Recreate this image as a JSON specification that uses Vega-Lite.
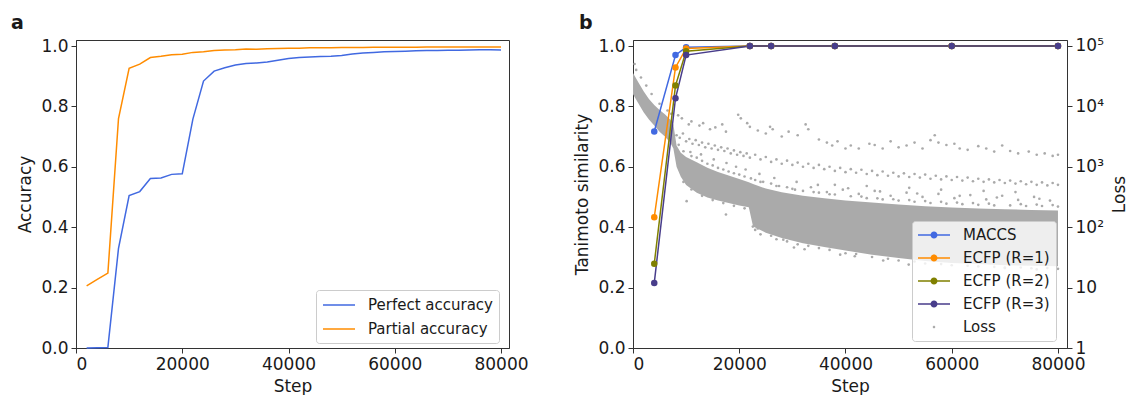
{
  "$schema": "https://vega.github.io/schema/vega-lite/v6.json",
  "padding": {"left": 10, "top": 13, "right": 0, "bottom": 0},
  "spacing": 44,
  "config": {
    "font": "DejaVu Sans",
    "view": {"stroke": "#333333", "strokeWidth": 1},
    "axis": {"labelFontSize": 17, "titleFontSize": 17, "titleFontWeight": "normal", "labelColor": "#1a1a1a", "titleColor": "#1a1a1a", "domainColor": "#333333", "tickColor": "#333333", "tickSize": 5, "grid": false, "labelPadding": 3, "titlePadding": 6},
    "title": {"fontSize": 19, "fontWeight": "bold", "color": "#1a1a1a"},
    "legend": {"title": null, "orient": "none", "labelFontSize": 15, "labelColor": "#1a1a1a", "symbolSize": 256, "symbolOffset": 8, "rowPadding": 7, "padding": 6, "fillColor": "rgba(255,255,255,0.8)", "strokeColor": "#cccccc", "cornerRadius": 3}
  },
  "resolve": {"scale": {"color": "independent"}, "legend": {"color": "independent"}},
  "hconcat": [
    {
      "width": 433, "height": 308,
      "title": {"text": "a", "anchor": "start", "frame": "bounds", "offset": 4, "dx": -6},
      "data": {"values": [
        {"step": 2000, "metric": "Perfect accuracy", "acc": 0.0},
        {"step": 4000, "metric": "Perfect accuracy", "acc": 0.001},
        {"step": 6000, "metric": "Perfect accuracy", "acc": 0.002},
        {"step": 8000, "metric": "Perfect accuracy", "acc": 0.33},
        {"step": 10000, "metric": "Perfect accuracy", "acc": 0.505},
        {"step": 12000, "metric": "Perfect accuracy", "acc": 0.518},
        {"step": 14000, "metric": "Perfect accuracy", "acc": 0.561},
        {"step": 16000, "metric": "Perfect accuracy", "acc": 0.563},
        {"step": 18000, "metric": "Perfect accuracy", "acc": 0.575},
        {"step": 20000, "metric": "Perfect accuracy", "acc": 0.577},
        {"step": 22000, "metric": "Perfect accuracy", "acc": 0.758},
        {"step": 24000, "metric": "Perfect accuracy", "acc": 0.884},
        {"step": 26000, "metric": "Perfect accuracy", "acc": 0.917},
        {"step": 28000, "metric": "Perfect accuracy", "acc": 0.928},
        {"step": 30000, "metric": "Perfect accuracy", "acc": 0.937},
        {"step": 32000, "metric": "Perfect accuracy", "acc": 0.942},
        {"step": 34000, "metric": "Perfect accuracy", "acc": 0.944},
        {"step": 36000, "metric": "Perfect accuracy", "acc": 0.947},
        {"step": 38000, "metric": "Perfect accuracy", "acc": 0.953},
        {"step": 40000, "metric": "Perfect accuracy", "acc": 0.959},
        {"step": 42000, "metric": "Perfect accuracy", "acc": 0.962},
        {"step": 44000, "metric": "Perfect accuracy", "acc": 0.964},
        {"step": 46000, "metric": "Perfect accuracy", "acc": 0.965},
        {"step": 48000, "metric": "Perfect accuracy", "acc": 0.966},
        {"step": 50000, "metric": "Perfect accuracy", "acc": 0.969},
        {"step": 52000, "metric": "Perfect accuracy", "acc": 0.974},
        {"step": 54000, "metric": "Perfect accuracy", "acc": 0.977},
        {"step": 56000, "metric": "Perfect accuracy", "acc": 0.979},
        {"step": 58000, "metric": "Perfect accuracy", "acc": 0.981},
        {"step": 60000, "metric": "Perfect accuracy", "acc": 0.982},
        {"step": 62000, "metric": "Perfect accuracy", "acc": 0.983},
        {"step": 64000, "metric": "Perfect accuracy", "acc": 0.984},
        {"step": 66000, "metric": "Perfect accuracy", "acc": 0.985},
        {"step": 68000, "metric": "Perfect accuracy", "acc": 0.985},
        {"step": 70000, "metric": "Perfect accuracy", "acc": 0.986},
        {"step": 72000, "metric": "Perfect accuracy", "acc": 0.986},
        {"step": 74000, "metric": "Perfect accuracy", "acc": 0.987},
        {"step": 76000, "metric": "Perfect accuracy", "acc": 0.988},
        {"step": 78000, "metric": "Perfect accuracy", "acc": 0.988},
        {"step": 80000, "metric": "Perfect accuracy", "acc": 0.987},
        {"step": 2000, "metric": "Partial accuracy", "acc": 0.206},
        {"step": 4000, "metric": "Partial accuracy", "acc": 0.227},
        {"step": 6000, "metric": "Partial accuracy", "acc": 0.248},
        {"step": 8000, "metric": "Partial accuracy", "acc": 0.76},
        {"step": 10000, "metric": "Partial accuracy", "acc": 0.926},
        {"step": 12000, "metric": "Partial accuracy", "acc": 0.94},
        {"step": 14000, "metric": "Partial accuracy", "acc": 0.962},
        {"step": 16000, "metric": "Partial accuracy", "acc": 0.966},
        {"step": 18000, "metric": "Partial accuracy", "acc": 0.971},
        {"step": 20000, "metric": "Partial accuracy", "acc": 0.973},
        {"step": 22000, "metric": "Partial accuracy", "acc": 0.979},
        {"step": 24000, "metric": "Partial accuracy", "acc": 0.981},
        {"step": 26000, "metric": "Partial accuracy", "acc": 0.985},
        {"step": 28000, "metric": "Partial accuracy", "acc": 0.987},
        {"step": 30000, "metric": "Partial accuracy", "acc": 0.988},
        {"step": 32000, "metric": "Partial accuracy", "acc": 0.99},
        {"step": 34000, "metric": "Partial accuracy", "acc": 0.989},
        {"step": 36000, "metric": "Partial accuracy", "acc": 0.991},
        {"step": 38000, "metric": "Partial accuracy", "acc": 0.992},
        {"step": 40000, "metric": "Partial accuracy", "acc": 0.993},
        {"step": 42000, "metric": "Partial accuracy", "acc": 0.993},
        {"step": 44000, "metric": "Partial accuracy", "acc": 0.994},
        {"step": 46000, "metric": "Partial accuracy", "acc": 0.994},
        {"step": 48000, "metric": "Partial accuracy", "acc": 0.994},
        {"step": 50000, "metric": "Partial accuracy", "acc": 0.995},
        {"step": 52000, "metric": "Partial accuracy", "acc": 0.995},
        {"step": 54000, "metric": "Partial accuracy", "acc": 0.995},
        {"step": 56000, "metric": "Partial accuracy", "acc": 0.996},
        {"step": 58000, "metric": "Partial accuracy", "acc": 0.996},
        {"step": 60000, "metric": "Partial accuracy", "acc": 0.996},
        {"step": 62000, "metric": "Partial accuracy", "acc": 0.996},
        {"step": 64000, "metric": "Partial accuracy", "acc": 0.996},
        {"step": 66000, "metric": "Partial accuracy", "acc": 0.997},
        {"step": 68000, "metric": "Partial accuracy", "acc": 0.997},
        {"step": 70000, "metric": "Partial accuracy", "acc": 0.997},
        {"step": 72000, "metric": "Partial accuracy", "acc": 0.997},
        {"step": 74000, "metric": "Partial accuracy", "acc": 0.997},
        {"step": 76000, "metric": "Partial accuracy", "acc": 0.997},
        {"step": 78000, "metric": "Partial accuracy", "acc": 0.997},
        {"step": 80000, "metric": "Partial accuracy", "acc": 0.997}
      ]},
      "mark": {"type": "line", "strokeWidth": 1.5},
      "encoding": {
        "x": {"field": "step", "type": "quantitative", "scale": {"domain": [0, 81500], "nice": false}, "axis": {"values": [0, 20000, 40000, 60000, 80000], "format": "d", "title": "Step"}},
        "y": {"field": "acc", "type": "quantitative", "scale": {"domain": [0, 1.02], "nice": false}, "axis": {"values": [0, 0.2, 0.4, 0.6, 0.8, 1.0], "format": ".1f", "title": "Accuracy"}},
        "color": {"field": "metric", "type": "nominal", "scale": {"domain": ["Perfect accuracy", "Partial accuracy"], "range": ["#4169e1", "#ff8c00"]},
          "legend": {"legendX": 240, "legendY": 250, "symbolType": "M-2,0H2", "symbolStrokeWidth": 1.5, "labelOffset": 20}}
      }
    },
    {
      "width": 434, "height": 308,
      "title": {"text": "b", "anchor": "start", "frame": "bounds", "offset": 4, "dx": 5},
      "layer": [
        {
          "layer": [
            {
              "data": {"values": [
                {"step": 0, "top": 35500, "bottom": 15800},
                {"step": 1000, "top": 25100, "bottom": 11200},
                {"step": 2000, "top": 17800, "bottom": 7940},
                {"step": 3000, "top": 13200, "bottom": 6030},
                {"step": 4000, "top": 10500, "bottom": 4790},
                {"step": 5000, "top": 8710, "bottom": 3800},
                {"step": 6000, "top": 7410, "bottom": 3160},
                {"step": 7000, "top": 6030, "bottom": 2510},
                {"step": 7600, "top": 5010, "bottom": 2000},
                {"step": 8200, "top": 2240, "bottom": 1000},
                {"step": 9000, "top": 1700, "bottom": 680},
                {"step": 10000, "top": 1450, "bottom": 500},
                {"step": 12000, "top": 1180, "bottom": 370},
                {"step": 14000, "top": 960, "bottom": 308},
                {"step": 16000, "top": 820, "bottom": 275},
                {"step": 18000, "top": 715, "bottom": 250},
                {"step": 20000, "top": 625, "bottom": 228},
                {"step": 21800, "top": 555, "bottom": 214},
                {"step": 22600, "top": 520, "bottom": 102},
                {"step": 25000, "top": 435, "bottom": 81},
                {"step": 28000, "top": 378, "bottom": 66},
                {"step": 32000, "top": 330, "bottom": 54},
                {"step": 36000, "top": 300, "bottom": 47},
                {"step": 40000, "top": 275, "bottom": 41},
                {"step": 45000, "top": 255, "bottom": 35},
                {"step": 50000, "top": 238, "bottom": 31},
                {"step": 55000, "top": 222, "bottom": 27.5},
                {"step": 60000, "top": 212, "bottom": 25.5},
                {"step": 65000, "top": 203, "bottom": 24.5},
                {"step": 70000, "top": 198, "bottom": 23.5},
                {"step": 75000, "top": 193, "bottom": 23},
                {"step": 80000, "top": 189, "bottom": 22.5}
              ]},
              "mark": {"type": "area", "color": "#aaaaaa", "opacity": 1},
              "encoding": {
                "x": {"field": "step", "type": "quantitative", "scale": {"domain": [0, 81700], "nice": false}, "axis": {"values": [0, 20000, 40000, 60000, 80000], "format": "d", "title": "Step"}},
                "y": {"field": "top", "type": "quantitative", "scale": {"type": "log", "domain": [1, 125000], "nice": false}, "axis": {"orient": "right", "title": "Loss", "titleAngle": 270, "titleBaseline": "top", "titlePadding": 8, "values": [1, 10, 100, 1000, 10000, 100000], "labelExpr": "datum.value >= 100000 ? '10⁵' : datum.value >= 10000 ? '10⁴' : datum.value >= 1000 ? '10³' : datum.value >= 100 ? '10²' : datum.value >= 10 ? '10' : '1'"}},
                "y2": {"field": "bottom"}
              }
            },
            {
              "data": {"values": [
                {"step": 300, "loss": 50000}, {"step": 600, "loss": 40000}, {"step": 1500, "loss": 30000}, {"step": 2500, "loss": 22000}, {"step": 3500, "loss": 16000}, {"step": 5000, "loss": 11000}, {"step": 6500, "loss": 8500}, {"step": 7200, "loss": 7500},
                {"step": 8500, "loss": 7080}, {"step": 9200, "loss": 6310}, {"step": 10500, "loss": 5010}, {"step": 11000, "loss": 5620}, {"step": 12500, "loss": 4790}, {"step": 13200, "loss": 5250}, {"step": 14500, "loss": 4170}, {"step": 15500, "loss": 4470}, {"step": 16800, "loss": 5010}, {"step": 17500, "loss": 3800}, {"step": 19800, "loss": 7240}, {"step": 20300, "loss": 6310}, {"step": 21500, "loss": 5250}, {"step": 22000, "loss": 4570}, {"step": 23500, "loss": 3980}, {"step": 25000, "loss": 3550}, {"step": 25800, "loss": 4570}, {"step": 26300, "loss": 4170}, {"step": 28000, "loss": 3160}, {"step": 29300, "loss": 3800}, {"step": 31000, "loss": 3310}, {"step": 32500, "loss": 5010}, {"step": 33000, "loss": 4170}, {"step": 35000, "loss": 2820}, {"step": 36500, "loss": 2510}, {"step": 37500, "loss": 2240}, {"step": 38500, "loss": 2630}, {"step": 40000, "loss": 2000}, {"step": 41000, "loss": 2240}, {"step": 42500, "loss": 2000}, {"step": 44500, "loss": 2400}, {"step": 45500, "loss": 2290}, {"step": 47000, "loss": 2000}, {"step": 48500, "loss": 2630}, {"step": 50000, "loss": 2090}, {"step": 51500, "loss": 2240}, {"step": 53000, "loss": 2510}, {"step": 54500, "loss": 2000}, {"step": 56000, "loss": 2750}, {"step": 56800, "loss": 3310}, {"step": 57500, "loss": 2510}, {"step": 59000, "loss": 2290}, {"step": 60500, "loss": 2400}, {"step": 61500, "loss": 2000}, {"step": 63000, "loss": 1900}, {"step": 65000, "loss": 2190}, {"step": 66500, "loss": 2000}, {"step": 68000, "loss": 1780}, {"step": 69500, "loss": 2240}, {"step": 71000, "loss": 1820}, {"step": 72500, "loss": 1660}, {"step": 74500, "loss": 1780}, {"step": 76000, "loss": 1580}, {"step": 77500, "loss": 1660}, {"step": 79000, "loss": 1510}, {"step": 80000, "loss": 1580},
                {"step": 8200, "loss": 3310}, {"step": 8800, "loss": 3020}, {"step": 9400, "loss": 3550}, {"step": 10000, "loss": 2630}, {"step": 10600, "loss": 2880}, {"step": 11200, "loss": 2400}, {"step": 11800, "loss": 2750}, {"step": 12400, "loss": 2290}, {"step": 13000, "loss": 2510}, {"step": 13600, "loss": 2090}, {"step": 14200, "loss": 2400}, {"step": 14800, "loss": 2000}, {"step": 15400, "loss": 2240}, {"step": 16000, "loss": 1900}, {"step": 16600, "loss": 2090}, {"step": 17200, "loss": 1820}, {"step": 17800, "loss": 2000}, {"step": 18400, "loss": 1660}, {"step": 19000, "loss": 1860}, {"step": 19600, "loss": 1580}, {"step": 20200, "loss": 1740}, {"step": 20800, "loss": 1510}, {"step": 21400, "loss": 1660}, {"step": 22000, "loss": 1410}, {"step": 23000, "loss": 1580}, {"step": 24000, "loss": 1320}, {"step": 25000, "loss": 1450}, {"step": 26000, "loss": 1200}, {"step": 27000, "loss": 1320}, {"step": 28000, "loss": 1120}, {"step": 29000, "loss": 1260}, {"step": 30000, "loss": 1070}, {"step": 31000, "loss": 1170}, {"step": 32000, "loss": 1000}, {"step": 33000, "loss": 1120}, {"step": 34000, "loss": 955}, {"step": 35000, "loss": 1070}, {"step": 36000, "loss": 912}, {"step": 37000, "loss": 1000}, {"step": 38000, "loss": 851}, {"step": 39000, "loss": 955}, {"step": 40000, "loss": 813}, {"step": 41000, "loss": 912}, {"step": 42000, "loss": 794}, {"step": 43000, "loss": 891}, {"step": 44000, "loss": 759}, {"step": 45000, "loss": 851}, {"step": 46000, "loss": 724}, {"step": 47000, "loss": 832}, {"step": 48000, "loss": 708}, {"step": 49000, "loss": 794}, {"step": 50000, "loss": 692}, {"step": 51000, "loss": 776}, {"step": 52000, "loss": 676}, {"step": 53000, "loss": 759}, {"step": 54000, "loss": 661}, {"step": 55000, "loss": 741}, {"step": 56000, "loss": 631}, {"step": 57000, "loss": 708}, {"step": 58000, "loss": 617}, {"step": 59000, "loss": 692}, {"step": 60000, "loss": 603}, {"step": 61000, "loss": 676}, {"step": 62000, "loss": 589}, {"step": 63000, "loss": 661}, {"step": 64000, "loss": 575}, {"step": 65000, "loss": 631}, {"step": 66000, "loss": 562}, {"step": 67000, "loss": 617}, {"step": 68000, "loss": 550}, {"step": 69000, "loss": 603}, {"step": 70000, "loss": 537}, {"step": 71000, "loss": 589}, {"step": 72000, "loss": 525}, {"step": 73000, "loss": 575}, {"step": 74000, "loss": 513}, {"step": 75000, "loss": 562}, {"step": 76000, "loss": 501}, {"step": 77000, "loss": 550}, {"step": 78000, "loss": 490}, {"step": 79000, "loss": 537}, {"step": 80000, "loss": 501},
                {"step": 24500, "loss": 562}, {"step": 27500, "loss": 479}, {"step": 30500, "loss": 417}, {"step": 33500, "loss": 457}, {"step": 36500, "loss": 380}, {"step": 39500, "loss": 417}, {"step": 42500, "loss": 355}, {"step": 45500, "loss": 398}, {"step": 48500, "loss": 331}, {"step": 51500, "loss": 372}, {"step": 54500, "loss": 316}, {"step": 57500, "loss": 355}, {"step": 60500, "loss": 302}, {"step": 63500, "loss": 339}, {"step": 66500, "loss": 288}, {"step": 69500, "loss": 331}, {"step": 72500, "loss": 282}, {"step": 75500, "loss": 316}, {"step": 78500, "loss": 275}, {"step": 38000, "loss": 501}, {"step": 52000, "loss": 447}, {"step": 66000, "loss": 398}, {"step": 58000, "loss": 417}, {"step": 44000, "loss": 479}, {"step": 72000, "loss": 380},
                {"step": 10100, "loss": 269}, {"step": 17500, "loss": 162}, {"step": 22560, "loss": 102}, {"step": 23500, "loss": 95}, {"step": 28300, "loss": 62}, {"step": 30300, "loss": 46}, {"step": 32300, "loss": 43}, {"step": 39000, "loss": 35}, {"step": 41750, "loss": 33}, {"step": 47100, "loss": 28}, {"step": 51900, "loss": 24}, {"step": 70000, "loss": 21}, {"step": 76000, "loss": 20},
                {"step": 12000, "loss": 1410}, {"step": 14000, "loss": 1120}, {"step": 16000, "loss": 955}, {"step": 18000, "loss": 832}, {"step": 20000, "loss": 741}, {"step": 23000, "loss": 603}, {"step": 26000, "loss": 525}, {"step": 29000, "loss": 457}, {"step": 32000, "loss": 398}, {"step": 35000, "loss": 372}, {"step": 38000, "loss": 347}, {"step": 41000, "loss": 324}, {"step": 44000, "loss": 302}, {"step": 47000, "loss": 288}, {"step": 50000, "loss": 275}, {"step": 53000, "loss": 263}, {"step": 56000, "loss": 251}, {"step": 59000, "loss": 245}, {"step": 62000, "loss": 240}, {"step": 65000, "loss": 234}, {"step": 68000, "loss": 229}, {"step": 71000, "loss": 229}, {"step": 74000, "loss": 224}, {"step": 77000, "loss": 224}, {"step": 80000, "loss": 219},
                {"step": 8600, "loss": 2300}, {"step": 9500, "loss": 1800}, {"step": 11000, "loss": 1500}, {"step": 13000, "loss": 1250}, {"step": 15000, "loss": 1050}, {"step": 17000, "loss": 900}, {"step": 19000, "loss": 780}, {"step": 21000, "loss": 690}, {"step": 22200, "loss": 640}, {"step": 24000, "loss": 560}, {"step": 27000, "loss": 480}, {"step": 30000, "loss": 430}, {"step": 34000, "loss": 380}, {"step": 37000, "loss": 350}, {"step": 43000, "loss": 320}, {"step": 46000, "loss": 300}, {"step": 49000, "loss": 290}, {"step": 52000, "loss": 280}, {"step": 55000, "loss": 270}, {"step": 58000, "loss": 262}, {"step": 61000, "loss": 255}, {"step": 64000, "loss": 250}, {"step": 67000, "loss": 245}, {"step": 73000, "loss": 240}, {"step": 76000, "loss": 236}, {"step": 79000, "loss": 232},
                {"step": 9500, "loss": 560}, {"step": 11000, "loss": 420}, {"step": 13000, "loss": 330}, {"step": 15000, "loss": 280}, {"step": 17000, "loss": 250}, {"step": 19000, "loss": 225}, {"step": 21000, "loss": 205}, {"step": 23000, "loss": 90}, {"step": 26000, "loss": 72}, {"step": 29000, "loss": 58}, {"step": 33000, "loss": 49}, {"step": 37000, "loss": 42}, {"step": 42000, "loss": 36}, {"step": 48000, "loss": 30}, {"step": 53000, "loss": 27}, {"step": 58000, "loss": 24.5}, {"step": 63000, "loss": 23}, {"step": 68000, "loss": 22}, {"step": 73000, "loss": 21.5}, {"step": 78000, "loss": 21},
                {"step": 24000, "loss": 76}, {"step": 27000, "loss": 63}, {"step": 31000, "loss": 52}, {"step": 35000, "loss": 45}, {"step": 40000, "loss": 37}, {"step": 45000, "loss": 32}, {"step": 50000, "loss": 28}, {"step": 55000, "loss": 25}, {"step": 60000, "loss": 23.4}, {"step": 65000, "loss": 22.4}, {"step": 70000, "loss": 21.4}, {"step": 75000, "loss": 20.9}, {"step": 80000, "loss": 20.4},
                {"step": 10800, "loss": 1750}, {"step": 12800, "loss": 1600}, {"step": 15200, "loss": 1320}, {"step": 17600, "loss": 1150}, {"step": 19400, "loss": 1000}, {"step": 21200, "loss": 900}, {"step": 23800, "loss": 760}, {"step": 26600, "loss": 650}, {"step": 30800, "loss": 560}, {"step": 34800, "loss": 500}, {"step": 40500, "loss": 440}, {"step": 46500, "loss": 390}, {"step": 53500, "loss": 360}, {"step": 61500, "loss": 330}, {"step": 68500, "loss": 310}, {"step": 76500, "loss": 295}
              ]},
              "mark": {"type": "point", "filled": true, "size": 7, "opacity": 1},
              "encoding": {
                "x": {"field": "step", "type": "quantitative"},
                "y": {"field": "loss", "type": "quantitative"},
                "color": {"datum": "Loss", "type": "nominal",
                  "scale": {"domain": ["MACCS", "ECFP (R=1)", "ECFP (R=2)", "ECFP (R=3)", "Loss"], "range": ["#4169e1", "#ff8c00", "#808000", "#483d8b", "#aaaaaa"]},
                  "legend": {"legendX": 279, "legendY": 181, "labelOffset": 21, "symbolOpacity": 1, "symbolStrokeWidth": 0,
                    "symbolType": {"expr": "datum.value === 'Loss' ? 'M-0.16,0A0.16,0.16 0 1,1 0.16,0A0.16,0.16 0 1,1 -0.16,0Z' : 'M-2,-0.09H2V0.09H-2Z M-0.44,0A0.44,0.44 0 1,1 0.44,0A0.44,0.44 0 1,1 -0.44,0Z'"}}}
              }
            }
          ]
        },
        {
          "data": {"values": [
            {"step": 4000, "series": "MACCS", "sim": 0.717},
            {"step": 8000, "series": "MACCS", "sim": 0.97},
            {"step": 10000, "series": "MACCS", "sim": 0.996},
            {"step": 22000, "series": "MACCS", "sim": 1.0},
            {"step": 26000, "series": "MACCS", "sim": 1.0},
            {"step": 38000, "series": "MACCS", "sim": 1.0},
            {"step": 60000, "series": "MACCS", "sim": 1.0},
            {"step": 80000, "series": "MACCS", "sim": 1.0},
            {"step": 4000, "series": "ECFP (R=1)", "sim": 0.433},
            {"step": 8000, "series": "ECFP (R=1)", "sim": 0.929},
            {"step": 10000, "series": "ECFP (R=1)", "sim": 0.992},
            {"step": 22000, "series": "ECFP (R=1)", "sim": 1.0},
            {"step": 26000, "series": "ECFP (R=1)", "sim": 1.0},
            {"step": 38000, "series": "ECFP (R=1)", "sim": 1.0},
            {"step": 60000, "series": "ECFP (R=1)", "sim": 1.0},
            {"step": 80000, "series": "ECFP (R=1)", "sim": 1.0},
            {"step": 4000, "series": "ECFP (R=2)", "sim": 0.279},
            {"step": 8000, "series": "ECFP (R=2)", "sim": 0.869},
            {"step": 10000, "series": "ECFP (R=2)", "sim": 0.983},
            {"step": 22000, "series": "ECFP (R=2)", "sim": 1.0},
            {"step": 26000, "series": "ECFP (R=2)", "sim": 1.0},
            {"step": 38000, "series": "ECFP (R=2)", "sim": 1.0},
            {"step": 60000, "series": "ECFP (R=2)", "sim": 1.0},
            {"step": 80000, "series": "ECFP (R=2)", "sim": 1.0},
            {"step": 4000, "series": "ECFP (R=3)", "sim": 0.215},
            {"step": 8000, "series": "ECFP (R=3)", "sim": 0.827},
            {"step": 10000, "series": "ECFP (R=3)", "sim": 0.97},
            {"step": 22000, "series": "ECFP (R=3)", "sim": 1.0},
            {"step": 26000, "series": "ECFP (R=3)", "sim": 1.0},
            {"step": 38000, "series": "ECFP (R=3)", "sim": 1.0},
            {"step": 60000, "series": "ECFP (R=3)", "sim": 1.0},
            {"step": 80000, "series": "ECFP (R=3)", "sim": 1.0}
          ]},
          "layer": [
            {
              "mark": {"type": "line", "strokeWidth": 1.5},
              "encoding": {
                "x": {"field": "step", "type": "quantitative"},
                "y": {"field": "sim", "type": "quantitative", "scale": {"domain": [0, 1.02], "nice": false}, "axis": {"orient": "left", "values": [0, 0.2, 0.4, 0.6, 0.8, 1.0], "format": ".1f", "title": "Tanimoto similarity"}},
                "color": {"field": "series", "type": "nominal"}
              }
            },
            {
              "mark": {"type": "point", "filled": true, "size": 42, "opacity": 1},
              "encoding": {
                "x": {"field": "step", "type": "quantitative"},
                "y": {"field": "sim", "type": "quantitative"},
                "color": {"field": "series", "type": "nominal"}
              }
            }
          ]
        }
      ],
      "resolve": {"scale": {"y": "independent"}, "axis": {"y": "independent"}}
    }
  ]
}
